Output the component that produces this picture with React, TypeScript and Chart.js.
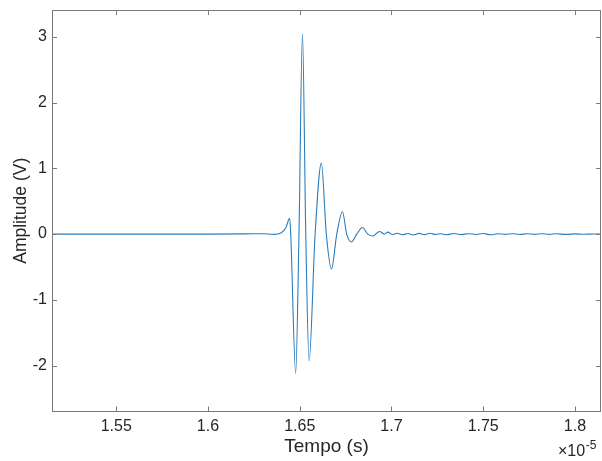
import React, { useEffect, useRef } from "react";
import { Chart, registerables } from "chart.js";

Chart.register(...registerables);

// Time in units of 1e-5 s
const timeE5: number[] = [
  1.515, 1.56, 1.6, 1.62, 1.63, 1.636, 1.64, 1.6425, 1.6445, 1.6451, 1.6478,
  1.6496, 1.6515, 1.6533, 1.6551, 1.6584, 1.6618, 1.6645, 1.6673, 1.6702,
  1.6733, 1.6756, 1.6782, 1.6811, 1.6842, 1.6871, 1.69, 1.6918, 1.6936,
  1.696, 1.698, 1.7005, 1.703, 1.706, 1.709, 1.712, 1.715, 1.718, 1.721,
  1.724, 1.727, 1.73, 1.734, 1.738, 1.742, 1.746, 1.75, 1.754, 1.758, 1.762,
  1.766, 1.77, 1.774, 1.778, 1.782, 1.786, 1.79, 1.795, 1.8, 1.805, 1.81,
  1.8142,
];
const amplitudeV: number[] = [
  0, 0, 0, 0.003, 0.006, -0.005, 0.02, 0.1, 0.24, 0, -2.12,
  0, 3.05, 0, -1.93, 0, 1.08, 0, -0.53, 0,
  0.34, 0, -0.12, 0, 0.1, 0, -0.03, 0.01, 0.04,
  0.0, 0.03, -0.01, 0.012, -0.01, 0.008, -0.012, 0.01, -0.008, 0.012,
  -0.006, 0.006, -0.01, 0.008, -0.008, 0.006, -0.006, 0.008, -0.01, 0.006, -0.004,
  0.006, -0.006, 0.004, -0.004, 0.006, -0.004, 0.004, -0.004, 0.003, -0.003, 0.002,
  0,
];
const xTickStep = 0.05;
const yTickStep = 1;
const xMin = 1.515;
const xMax = 1.8142;
const yMin = -2.7;
const yMax = 3.41;
const xTitle = "Tempo (s)";
const yTitle = "Amplitude (V)";
const exponentBase = "\u00d710";
const exponentPower = "-5";

const FONT = "'Liberation Sans', Arial, Helvetica, sans-serif";

const boxPlugin = {
  id: "matlabBox",
  afterDraw(chart: any) {
    const { ctx, chartArea } = chart;
    const { left, right, top, bottom } = chartArea;
    ctx.save();
    ctx.strokeStyle = "#7a7a7a";
    ctx.lineWidth = 1;
    ctx.strokeRect(Math.round(left) + 0.5, Math.round(top) + 0.5, Math.round(right - left) - 1, Math.round(bottom - top) - 1);
    const tl = 5;
    ctx.beginPath();
    const xs = chart.scales.x;
    xs.ticks.forEach((t: any) => {
      const px = Math.round(xs.getPixelForValue(t.value)) + 0.5;
      ctx.moveTo(px, bottom);
      ctx.lineTo(px, bottom - tl);
      ctx.moveTo(px, top);
      ctx.lineTo(px, top + tl);
    });
    const ys = chart.scales.y;
    ys.ticks.forEach((t: any) => {
      const py = Math.round(ys.getPixelForValue(t.value)) + 0.5;
      ctx.moveTo(left, py);
      ctx.lineTo(left + tl, py);
      ctx.moveTo(right, py);
      ctx.lineTo(right - tl, py);
    });
    ctx.stroke();
    // exponent label
    ctx.fillStyle = "#262626";
    ctx.textAlign = "left";
    ctx.textBaseline = "alphabetic";
    ctx.font = `16px ${FONT}`;
    const bx = 558;
    const by = 456;
    ctx.fillText(exponentBase, bx, by);
    const w = ctx.measureText(exponentBase).width;
    ctx.font = `12px ${FONT}`;
    ctx.fillText(exponentPower, bx + w + 0.5, by - 7);
    ctx.restore();
  },
};

export default function App() {
  const ref = useRef<HTMLCanvasElement | null>(null);
  useEffect(() => {
    document.body.style.margin = "0";
    const canvas = ref.current!;
    const chart = new Chart(canvas, {
      type: "line",
      data: {
        datasets: [
          {
            data: timeE5.map((t, i) => ({ x: t, y: amplitudeV[i] })),
            borderColor: "#2a7dbb",
            borderWidth: 1.1,
            pointRadius: 0,
            fill: false,
            cubicInterpolationMode: "monotone",
          },
        ],
      },
      options: {
        responsive: false,
        animation: false,
        events: [],
        layout: { padding: { top: 10, right: 1, left: 0, bottom: 0 } },
        plugins: { legend: { display: false }, tooltip: { enabled: false } },
        scales: {
          x: {
            type: "linear",
            min: xMin,
            max: xMax,
            grid: { display: false, drawTicks: false },
            border: { display: false },
            ticks: {
              stepSize: xTickStep,
              includeBounds: false,
              padding: 5,
              color: "#262626",
              font: { family: FONT, size: 16 },
              maxRotation: 0,
              callback: (v: any) => Number(Number(v).toFixed(2)).toString(),
            },
            title: {
              display: true,
              text: xTitle,
              color: "#262626",
              font: { family: FONT, size: 19 },
              padding: { top: 0, bottom: 2.5 },
            },
            afterFit: (s: any) => {
              s.height = 49.5;
              s.paddingLeft = 0;
              s.paddingRight = 0;
            },
          },
          y: {
            type: "linear",
            min: yMin,
            max: yMax,
            grid: { display: false, drawTicks: false },
            border: { display: false },
            ticks: {
              stepSize: yTickStep,
              includeBounds: false,
              padding: 5,
              color: "#262626",
              font: { family: FONT, size: 16 },
              callback: (v: any) => Number(Number(v).toFixed(2)).toString(),
            },
            title: {
              display: true,
              text: yTitle,
              color: "#262626",
              font: { family: FONT, size: 17.5 },
              padding: { top: 10.5, bottom: 0 },
            },
            afterFit: (s: any) => {
              s.width = 52;
              s.paddingTop = 0;
              s.paddingBottom = 0;
            },
          },
        },
      },
      plugins: [boxPlugin],
    });
    return () => chart.destroy();
  }, []);
  return (
    <div style={{ width: 602, height: 461, background: "#fff" }}>
      <canvas ref={ref} width={602} height={461} style={{ display: "block" }} />
    </div>
  );
}
